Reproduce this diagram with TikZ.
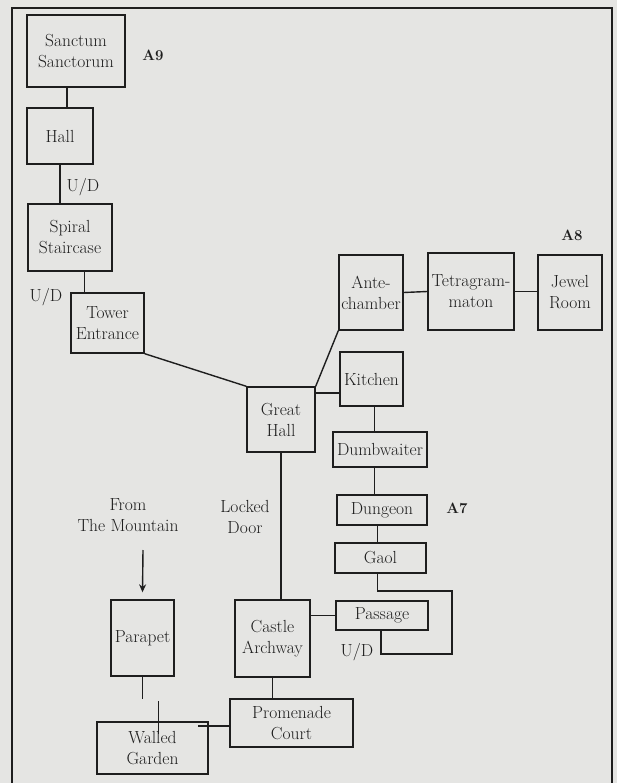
\documentclass[tikz,border=0pt]{standalone}
\usepackage{fontspec}
\usepackage{tikz}
\usetikzlibrary{arrows.meta,positioning,calc}
\definecolor{PaperGrey}{HTML}{E5E5E3}
\definecolor{InkDark}{HTML}{1E1E1E}

\begin{document}
\begin{tikzpicture}[x=1pt, y=-1pt, line width=1.4pt, draw=InkDark,
  every node/.style={font=\fontsize{17.5}{21}\selectfont, text=InkDark},
  room/.style={draw=InkDark, line width=1.4pt, align=center, inner sep=1pt},
  areatag/.style={font=\fontsize{15}{17}\selectfont\bfseries},
  note/.style={align=center}]
% paper and frame
\fill[PaperGrey] (0,0) rectangle (617,783);
\useasboundingbox (0,0) rectangle (617,783);
\draw[line width=1.1pt] (12,783) -- (12,8) -- (612,8) -- (612,783);

% rooms
\node[room, minimum width=98, minimum height=72] (sanctum) at (76,51) {Sanctum\\Sanctorum};
\node[room, minimum width=66, minimum height=56] (hall) at (60,136) {Hall};
\node[room, minimum width=84, minimum height=67] (spiral) at (70,237.5) {Spiral\\Staircase};
\node[room, minimum width=73, minimum height=60] (tower) at (107.5,323) {Tower\\Entrance};
\node[room, minimum width=68, minimum height=65] (great) at (281,419.5) {Great\\Hall};
\node[room, minimum width=64, minimum height=75] (ante) at (371,292.5) {Ante-\\chamber};
\node[room, minimum width=86, minimum height=77] (tetra) at (471,291.5) {Tetragram-\\maton};
\node[room, minimum width=64, minimum height=75] (jewel) at (570,292.5) {Jewel\\Room};
\node[room, minimum width=63, minimum height=54] (kitchen) at (371.5,379) {Kitchen};
\node[room, minimum width=94, minimum height=35] (dumb) at (380,449.5) {Dumbwaiter};
\node[room, minimum width=90, minimum height=30] (dungeon) at (382,510) {Dungeon};
\node[room, minimum width=91, minimum height=30] (gaol) at (380.5,558) {Gaol};
\node[room, minimum width=92, minimum height=29] (passage) at (382,615.5) {Passage};
\node[room, minimum width=75, minimum height=77] (archway) at (272.5,638.5) {Castle\\Archway};
\node[room, minimum width=63, minimum height=76] (parapet) at (142.5,638) {Parapet};
\node[room, minimum width=123, minimum height=48] (court) at (291.5,723) {Promenade\\Court};
\node[room, minimum width=111, minimum height=52] (garden) at (152.5,748) {Walled\\Garden};

% labels
\node[areatag] (a9) at (153,55) {A9};
\node[areatag] (a8) at (572,235) {A8};
\node[areatag] (a7) at (457,508) {A7};
\node (ud1) at (83,187) {U/D};
\node (ud2) at (46,297) {U/D};
\node (ud3) at (357,652) {U/D};
\node[note] (mountain) at (128,515) {From\\The Mountain};
\node[note] (locked) at (245,517) {Locked\\Door};

% connectors
\draw ([xshift=7pt]hall.north) -- ([xshift=7pt]hall.north |- sanctum.south);
\draw (hall.south) -- (hall.south |- spiral.north);
\draw ([xshift=-23pt]tower.north) -- ([xshift=-23pt]tower.north |- spiral.south);
\draw (tower.south east) -- (great.north west);
\draw (great.north east) -- (ante.south west);
\draw ([yshift=-14pt]kitchen.west) -- ([yshift=-14pt]kitchen.west -| great.east);
\draw (ante.east) -- (tetra.west);
\draw (tetra.east) -- (tetra.east -| jewel.west);
\draw ([xshift=3pt]kitchen.south) -- ([xshift=3pt]kitchen.south |- dumb.north);
\draw ([xshift=3pt]kitchen.south |- dumb.south) -- ([xshift=3pt]kitchen.south |- dungeon.north);
\draw ([xshift=-3pt]gaol.north) -- ([xshift=-3pt]gaol.north |- dungeon.south);
\coordinate (loopne) at (452,591);
\coordinate (loopsw) at (381,654);
\draw ([xshift=-3pt]gaol.south) |- (loopne) |- (loopsw) -- (loopsw |- passage.south);
\draw (great.south) -- (great.south |- archway.north);
\draw (passage.west) -- (passage.west -| archway.east);
\draw (archway.south) -- (archway.south |- court.north);
\coordinate (gardenin) at ([xshift=-11pt]garden.east);
\draw ([yshift=-3pt]court.west) -- ([yshift=-3pt]court.west -| gardenin);
\coordinate (stubend) at (142,699);
\draw (parapet.south) -- (parapet.south |- stubend);
\coordinate (stubtop) at (158,701);
\coordinate (stubbot) at (158,734);
\draw[line width=0.8pt] (stubtop) -- (stubbot);
\coordinate (fromtop) at (143,550);
\draw[-{Stealth[length=8pt,width=7pt]}] (fromtop) -- ([yshift=7pt]parapet.north);
\end{tikzpicture}
\end{document}
